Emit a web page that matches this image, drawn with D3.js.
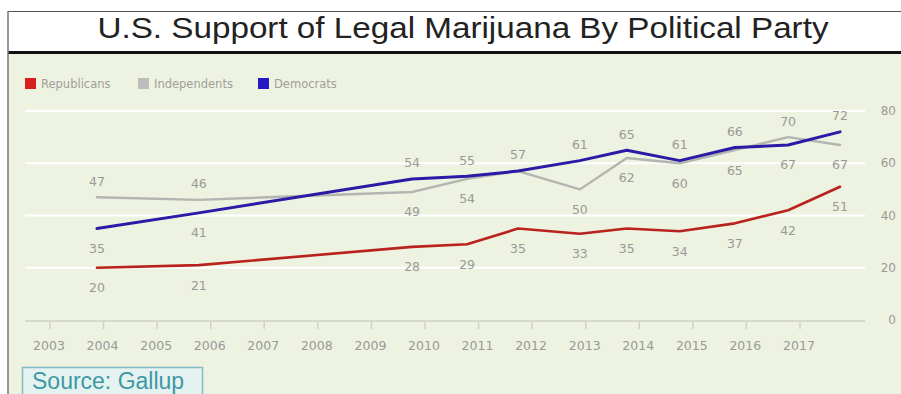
<!DOCTYPE html>
<html>
<head>
<meta charset="utf-8">
<script src="https://cdn.jsdelivr.net/npm/d3@7"></script>
<style>
  body { margin: 0; background: #ffffff; }
  svg { display: block; }
</style>
</head>
<body>
<div id="chart"></div>
<script>
// Chart size
const width = 901;
const height = 394;

// Survey dates (Gallup polls) and values per party
const surveyDates = ["2003-11-17", "2005-10-12", "2009-10-05", "2010-10-15", "2011-09-27",
  "2012-11-22", "2013-10-08", "2014-10-04", "2015-10-15", "2016-10-12", "2017-10-01"];
const republicans = [20, 21, 28, 29, 35, 33, 35, 34, 37, 42, 51];
const independents = [47, 46, 49, 54, 57, 50, 62, 60, 65, 70, 67];
const democrats = [35, 41, 54, 55, 57, 61, 65, 61, 66, 67, 72];
const yTicks = [0, 20, 40, 60, 80];
const tickYears = d3.range(2003, 2018);

const parseDate = d3.timeParse("%Y-%m-%d");
const dates = surveyDates.map(parseDate);

const svg = d3.select("#chart").append("svg")
    .attr("width", width)
    .attr("height", height);

// title band + frame
svg.append("rect")
    .attr("x", 0).attr("y", 0).attr("width", width).attr("height", height)
    .attr("fill", "#ffffff");
svg.append("rect")
    .attr("x", 8).attr("y", 54).attr("width", width - 8).attr("height", height - 54)
    .attr("fill", "#edf2e1");
svg.append("line")
    .attr("x1", 8).attr("x2", width).attr("y1", 11.5).attr("y2", 11.5)
    .attr("stroke", "#555").attr("stroke-width", 1.2);
svg.append("line")
    .attr("x1", 8).attr("x2", width).attr("y1", 52.5).attr("y2", 52.5)
    .attr("stroke", "#111").attr("stroke-width", 3);
svg.append("line")
    .attr("x1", 8).attr("x2", 8).attr("y1", 11).attr("y2", height)
    .attr("stroke", "#777").attr("stroke-width", 1.5);

svg.append("text")
    .attr("x", 463).attr("y", 38)
    .attr("text-anchor", "middle")
    .attr("textLength", 731)
    .attr("lengthAdjust", "spacingAndGlyphs")
    .style("font-family", "'Liberation Sans', Arial, sans-serif")
    .style("font-size", "30px")
    .style("fill", "#222")
    .text("U.S. Support of Legal Marijuana By Political Party");

// Scales
const x = d3.scaleTime()
    .domain([new Date(2003, 0, 1), new Date(2017, 0, 1)])
    .range([50, 800]);
const y = d3.scaleLinear()
    .domain([0, 80])
    .range([320, 111]);

const font = "'DejaVu Sans', Verdana, sans-serif";
const labelColor = "#9a9a96";

// gridlines
svg.append("g").selectAll("line")
    .data(yTicks.filter(d => d > 0))
    .enter().append("line")
    .attr("x1", 25).attr("x2", 865)
    .attr("y1", d => y(d)).attr("y2", d => y(d))
    .attr("stroke", "#ffffff").attr("stroke-width", 2);

// baseline
svg.append("line")
    .attr("x1", 25).attr("x2", 865)
    .attr("y1", y(0) + 1).attr("y2", y(0) + 1)
    .attr("stroke", "#d6d9cd").attr("stroke-width", 2);

// y labels on the right
svg.append("g").selectAll("text")
    .data(yTicks)
    .enter().append("text")
    .attr("x", 896)
    .attr("y", d => y(d))
    .attr("dy", "0.35em")
    .attr("text-anchor", "end")
    .style("font-family", font)
    .style("font-size", "12px")
    .style("fill", labelColor)
    .text(d => d);

// x axis ticks and labels
const xAxis = svg.append("g");
xAxis.selectAll("line")
    .data(tickYears)
    .enter().append("line")
    .attr("x1", d => x(new Date(d, 0, 1))).attr("x2", d => x(new Date(d, 0, 1)))
    .attr("y1", y(0) + 2).attr("y2", y(0) + 9)
    .attr("stroke", "#cfd2c6").attr("stroke-width", 1.5);
xAxis.selectAll("text")
    .data(tickYears)
    .enter().append("text")
    .attr("x", d => x(new Date(d, 0, 1)) - 1)
    .attr("y", 350)
    .attr("text-anchor", "middle")
    .style("font-family", font)
    .style("font-size", "12.5px")
    .style("fill", labelColor)
    .text(d => d);

// Legend
const legendItems = [
    { name: "Republicans", color: "#d81e1e", x: 25 },
    { name: "Independents", color: "#bdbdbd", x: 138 },
    { name: "Democrats", color: "#2417c4", x: 258 }
];
const legend = svg.append("g").selectAll("g")
    .data(legendItems)
    .enter().append("g")
    .attr("transform", d => "translate(" + d.x + ",78)");
legend.append("rect")
    .attr("width", 11).attr("height", 11)
    .attr("fill", d => d.color);
legend.append("text")
    .attr("x", 16).attr("y", 10)
    .style("font-family", font)
    .style("font-size", "11.5px")
    .style("fill", "#a0a09c")
    .text(d => d.name);

// Lines
const line = d3.line()
    .x(d => x(d.date))
    .y(d => y(d.value));

const series = [
    { name: "Republicans", values: republicans, color: "#b9221d", w: 2.6 },
    { name: "Independents", values: independents, color: "#b4b4b0", w: 2.4 },
    { name: "Democrats", values: democrats, color: "#2a1aa6", w: 3 }
];

svg.append("g").selectAll("path")
    .data(series)
    .enter().append("path")
    .attr("d", s => line(s.values.map((v, i) => ({ date: dates[i], value: v }))))
    .attr("fill", "none")
    .attr("stroke", s => s.color)
    .attr("stroke-width", s => s.w)
    .attr("stroke-linejoin", "round")
    .attr("stroke-linecap", "round");

// Value labels: the higher of Independents/Democrats goes above, the other below
const labels = [];
dates.forEach((dt, i) => {
    labels.push({ date: dt, value: republicans[i], above: false });
    const ind = independents[i], dem = democrats[i];
    if (ind === dem) {
        labels.push({ date: dt, value: dem, above: true });
    } else {
        labels.push({ date: dt, value: ind, above: ind > dem });
        labels.push({ date: dt, value: dem, above: dem > ind });
    }
});

svg.append("g").selectAll("text")
    .data(labels)
    .enter().append("text")
    .attr("x", d => x(d.date))
    .attr("y", d => y(d.value) + (d.above ? -16 : 20))
    .attr("dy", "0.35em")
    .attr("text-anchor", "middle")
    .style("font-family", font)
    .style("font-size", "12.5px")
    .style("fill", labelColor)
    .text(d => d.value);

// Source box
svg.append("rect")
    .attr("x", 22.5).attr("y", 367.5).attr("width", 180).attr("height", 30)
    .attr("fill", "#e4f3ef")
    .attr("stroke", "#7fbcc4").attr("stroke-width", 1.5);
svg.append("text")
    .attr("x", 32).attr("y", 389)
    .style("font-family", "'Liberation Sans', Arial, sans-serif")
    .style("font-size", "23px")
    .style("fill", "#3f98a6")
    .text("Source: Gallup");
</script>
</body>
</html>
